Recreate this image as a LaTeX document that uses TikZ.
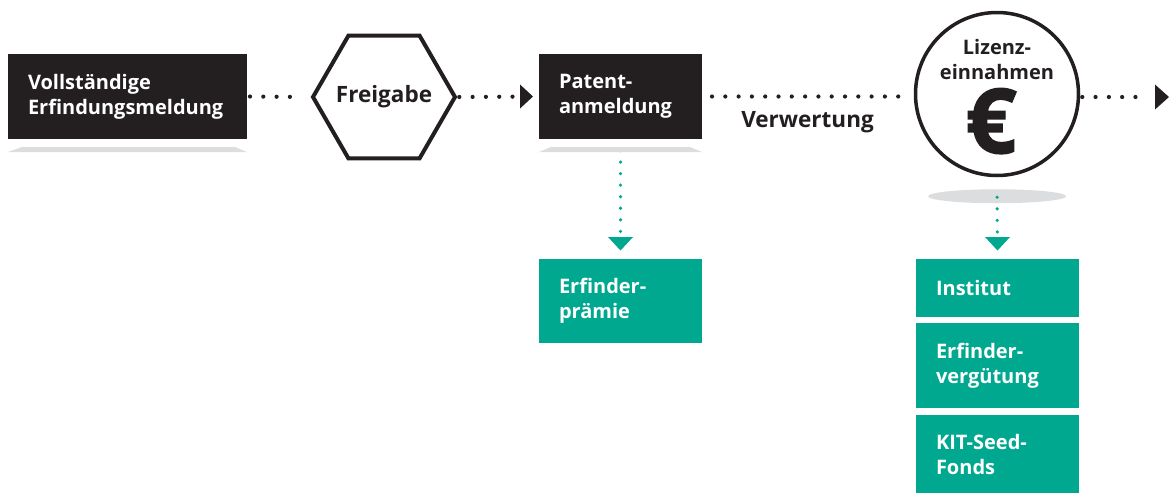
\documentclass[tikz,border=0pt]{standalone}
\usepackage{fontspec}
\setmainfont{Open Sans}
\newfontfamily\eurofont[FakeBold=1.6]{Open Sans}
\usetikzlibrary{shapes.geometric,calc}
\definecolor{ink}{HTML}{231F20}
\definecolor{kitgreen}{HTML}{00A88F}
\definecolor{shadowgrey}{HTML}{DCDDDF}
\begin{document}
\begin{tikzpicture}[x=1pt,y=-1pt,
  lbl/.style={font=\bfseries\fontsize{20}{25}\selectfont},
  biglbl/.style={font=\bfseries\fontsize{22.5}{27}\selectfont},
  darkbox/.style={lbl, fill=ink, text=white, align=left, inner xsep=20pt,
    inner ysep=0pt, outer sep=0pt, anchor=north west, text width=123pt,
    minimum height=85pt},
  greenbox/.style={lbl, fill=kitgreen, text=white, align=left, inner xsep=20pt,
    inner ysep=0pt, outer sep=0pt, anchor=north west, text width=123pt},
  blackdots/.style={draw=ink, line width=4.2pt, line cap=round,
    dash pattern=on 0pt off 13.3pt},
  greendots/.style={draw=kitgreen, line width=3.6pt, line cap=round,
    dash pattern=on 0pt off 11.55pt},
  darktext/.style={text=ink, inner sep=0pt},
]
\useasboundingbox (0,0) rectangle (1171,493);

% main process chain
\node[darkbox, text width=199pt] (melde) at (8,54) {Vollständige\\Erfindungsmeldung};
\node[regular polygon, regular polygon sides=6, draw=ink, line width=4pt,
  minimum size=142pt, inner sep=0pt] (frei) at (384,97) {};
\node[darktext, biglbl] (freitext) at (frei.center) {Freigabe};
\node[darkbox] (patent) at (539,54) {Patent-\\anmeldung};
\node[circle, draw=ink, line width=3.5pt, minimum size=163pt, inner sep=0pt]
  (lizenz) at (997,94) {};
\node[darktext, lbl, align=center] (liztext) at (997,59) {Lizenz-\\einnahmen};
\node[darktext, anchor=base, font=\eurofont\bfseries\fontsize{90}{90}\selectfont]
  (euro) at (991,153) {€};
\coordinate (ende) at (1169,97);

% shadows under the dark boxes and the circle
\fill[shadowgrey] ($(melde.south west)+(0,13)$) -- ($(melde.south west)+(14,8)$)
  -- ($(melde.south east)+(-12,8)$) -- ($(melde.south east)+(0,13)$) -- cycle;
\fill[shadowgrey] ($(lizenz.south)+(0,19)$) ellipse [x radius=69, y radius=7];

% result boxes
\node[greenbox, minimum height=84pt] (praemie) at (539,259) {Erfinder-\\prämie};
\node[greenbox, minimum height=58pt] (institut) at (916,259) {Institut};
\node[greenbox, minimum height=85pt] (verguetung) at (916,323) {Erfinder-\\vergütung};
\node[greenbox, minimum height=78pt] (seed) at (916,415) {KIT-Seed-\\Fonds};

% dotted connectors of the chain
\draw[blackdots, shorten <=3pt, shorten >=8pt] (melde.east) -- (frei.west);
\draw[blackdots, shorten <=2pt, shorten >=24pt] (frei.east) -- (patent.west);
\fill[ink] ($(patent.west)+(-6,0)$) -- ++(-13,-12) -- ++(0,24) -- cycle;
\draw[blackdots, shorten <=10pt, shorten >=6pt] (patent.east) -- (patent.east -| lizenz.west);
\node[darktext, biglbl, anchor=base] (verw) at (807.5,127) {Verwertung};
\draw[blackdots, shorten <=2pt, shorten >=22pt] (lizenz.east |- ende) -- (ende);
\fill[ink] (ende) -- ++(-14,-12.5) -- ++(0,25) -- cycle;

% green connectors to the results
\draw[greendots, shorten <=11.5pt, shorten >=27pt] (patent.south) -- (praemie.north);
\fill[kitgreen] ($(praemie.north)+(0,-8.5)$) -- ++(-12.5,-13.5) -- ++(25,0) -- cycle;
\fill[shadowgrey] ($(patent.south west)+(0,13)$) -- ($(patent.south west)+(12,8)$)
  -- ($(patent.south east)+(-12,8)$) -- ($(patent.south east)+(0,13)$) -- cycle;
\draw[greendots, shorten <=20pt, shorten >=27pt] (lizenz.south) -- (institut.north);
\fill[kitgreen] ($(institut.north)+(0,-8.5)$) -- ++(-12.5,-13.5) -- ++(25,0) -- cycle;
\end{tikzpicture}
\end{document}
